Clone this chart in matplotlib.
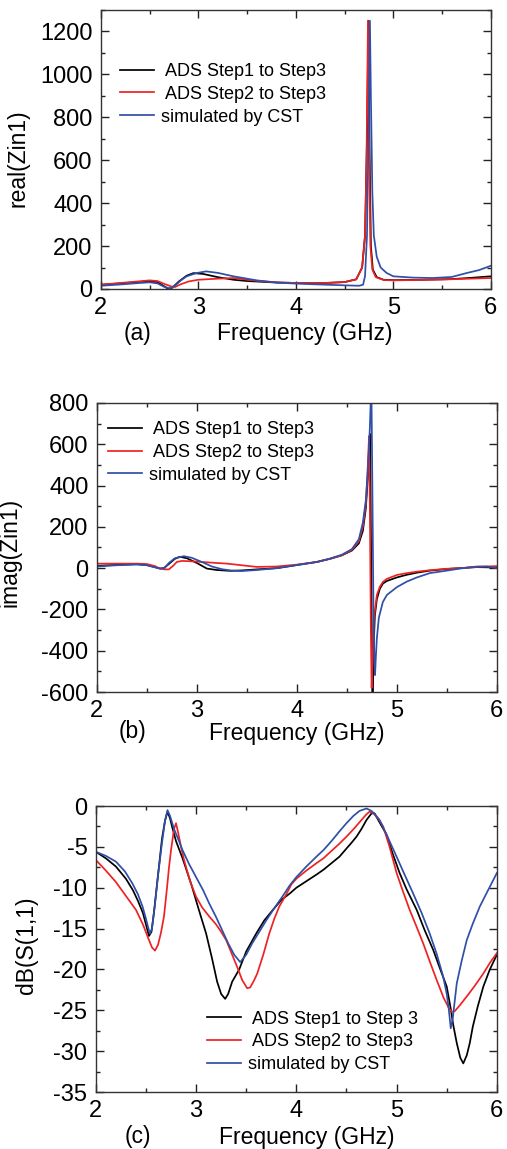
import matplotlib
matplotlib.use('Agg')
import matplotlib.pyplot as plt
from matplotlib.ticker import MultipleLocator

plt.rcParams['font.family'] = ['Liberation Sans', 'DejaVu Sans']
plt.rcParams['axes.unicode_minus'] = False

RED = '#ee2222'
BLUE = '#2f4fa8'

labels_ab = [' ADS Step1 to Step3', ' ADS Step2 to Step3', 'simulated by CST']
labels_c = [' ADS Step1 to Step 3', ' ADS Step2 to Step3', 'simulated by CST']

# (a) real(Zin1)
fa_black = [2.0, 2.2, 2.4, 2.5, 2.58, 2.64, 2.69, 2.73, 2.8, 2.88, 2.95, 3.05, 3.2, 3.36, 3.5, 3.8, 4.0, 4.3,
            4.5, 4.62, 4.68, 4.71, 4.73, 4.745, 4.755, 4.77, 4.79, 4.83, 4.9, 5.0, 5.3, 5.6, 5.8, 6.0]
ra_black = [20, 26, 33, 36, 32, 15, 1, 5, 35, 62, 74, 70, 55, 43, 37, 30, 28, 28,
            32, 45, 100, 250, 700, 1250, 700, 200, 90, 55, 43, 41, 43, 46, 52, 59]
fa_red = [2.0, 2.2, 2.4, 2.5, 2.58, 2.66, 2.72, 2.76, 2.82, 2.9, 3.0, 3.2, 3.36, 3.6, 3.8, 4.0, 4.3, 4.5,
          4.62, 4.68, 4.71, 4.725, 4.74, 4.75, 4.765, 4.785, 4.82, 4.9, 5.0, 5.5, 6.0]
ra_red = [20, 28, 36, 40, 37, 22, 12, 9, 22, 35, 43, 48, 51, 38, 31, 28, 28, 32,
          45, 100, 250, 600, 1250, 700, 200, 90, 55, 42, 40, 44, 51]
fa_blue = [2.0, 2.2, 2.4, 2.5, 2.58, 2.65, 2.71, 2.76, 2.82, 2.88, 2.98, 3.08, 3.2, 3.36, 3.6, 3.8, 4.0, 4.3,
           4.5, 4.65, 4.69, 4.71, 4.73, 4.745, 4.76, 4.77, 4.785, 4.8, 4.83, 4.87, 4.93, 5.0, 5.2, 5.4,
           5.6, 5.75, 5.88, 6.0]
ra_blue = [15, 21, 28, 31, 26, 10, 2, 15, 40, 59, 74, 82, 75, 59, 40, 30, 25, 20,
           17, 15, 20, 60, 250, 700, 1250, 900, 450, 250, 150, 100, 75, 59, 53, 51,
           56, 74, 88, 108]

# (b) imag(Zin1)
fb_black = [2.0, 2.2, 2.4, 2.5, 2.58, 2.63, 2.67, 2.72, 2.78, 2.83, 2.9, 3.0, 3.1, 3.2, 3.33, 3.45,
            3.6, 3.8, 4.0, 4.2, 4.33, 4.45, 4.55, 4.62, 4.66, 4.69, 4.71, 4.725, 4.732, 4.74, 4.75,
            4.757, 4.765, 4.78, 4.8, 4.83, 4.86, 4.9, 5.0, 5.1, 5.2, 5.33, 5.5, 5.63, 5.8, 6.0]
ib_black = [11, 16, 19, 15, 5, -2, 0, 20, 45, 55, 48, 25, -2, -9, -13, -11,
            -6, 0, 15, 30, 45, 62, 85, 120, 180, 290, 440, 600, 650, 200, -350,
            -600, -420, -230, -150, -100, -75, -62, -45, -32, -22, -12, -4, 0, 5, 3]
fb_red = [2.0, 2.2, 2.4, 2.5, 2.58, 2.63, 2.68, 2.72, 2.76, 2.8, 2.85, 2.95, 3.05, 3.2, 3.3, 3.45,
          3.6, 3.8, 4.0, 4.2, 4.33, 4.45, 4.55, 4.62, 4.66, 4.69, 4.705, 4.715, 4.722, 4.73, 4.74,
          4.748, 4.755, 4.77, 4.8, 4.83, 4.86, 4.9, 5.0, 5.1, 5.2, 5.33, 5.5, 5.63, 5.8, 6.0]
ib_red = [22, 22, 22, 20, 10, -2, -6, -6, 10, 30, 35, 33, 30, 25, 22, 14,
          6, 8, 17, 30, 45, 62, 88, 130, 200, 310, 450, 560, 640, 300, -300,
          -580, -480, -250, -130, -90, -67, -52, -33, -24, -17, -10, -3, 0, 6, 10]
fb_blue = [2.0, 2.2, 2.4, 2.5, 2.58, 2.64, 2.68, 2.72, 2.78, 2.87, 2.95, 3.05, 3.15, 3.25, 3.35, 3.45,
           3.6, 3.8, 4.0, 4.2, 4.33, 4.45, 4.55, 4.62, 4.66, 4.69, 4.71, 4.73, 4.745, 4.755, 4.765,
           4.775, 4.782, 4.79, 4.8, 4.82, 4.86, 4.9, 5.0, 5.1, 5.2, 5.33, 5.5, 5.63, 5.8, 5.9, 6.0]
ib_blue = [8, 14, 18, 14, 4, -2, 2, 25, 48, 58, 50, 30, 8, -5, -12, -14,
           -9, 0, 15, 30, 46, 65, 92, 140, 220, 330, 470, 680, 900, 400, -150,
           -450, -518, -430, -340, -240, -164, -130, -92, -65, -45, -24, -12, -2, 8, 8, 0]

# (c) dB(S(1,1))
fc_black = [2.0, 2.1, 2.2, 2.3, 2.37, 2.42, 2.47, 2.5, 2.53, 2.555, 2.58, 2.62, 2.66, 2.69, 2.715,
            2.74, 2.76, 2.8, 2.865, 2.95, 3.03, 3.1, 3.16, 3.21, 3.25, 3.29, 3.32, 3.36, 3.43, 3.5,
            3.6, 3.68, 3.76, 3.85, 3.935, 4.0, 4.1, 4.2, 4.27, 4.35, 4.43, 4.5, 4.55, 4.6, 4.65,
            4.7, 4.75, 4.78, 4.83, 4.9, 4.96, 5.03, 5.1, 5.2, 5.28, 5.365, 5.43, 5.5, 5.54, 5.565,
            5.6, 5.635, 5.665, 5.7, 5.73, 5.76, 5.81, 5.865, 5.93, 6.0]
sc_black = [-5.6, -6.4, -7.4, -8.9, -10.3, -11.6, -13.1, -14.5, -15.9, -15.4, -13, -8.5, -4, -1.8, -0.7,
            -1.5, -2.5, -4.3, -6.4, -9.5, -12.8, -15.6, -18.7, -21.5, -23.0, -23.6, -23.0, -21.5, -20.0, -17.8,
            -15.6, -14.0, -12.8, -11.5, -10.7, -10.0, -9.2, -8.4, -7.8, -7.0, -6.2, -5.2, -4.5, -3.75, -2.8,
            -1.7, -0.9, -0.9, -2.0, -3.5, -5.8, -8.2, -10.2, -12.7, -15.2, -17.6, -19.8, -22.1, -24.8, -26.8,
            -29.0, -30.8, -31.5, -30.5, -29.0, -27.0, -24.5, -22.1, -20.0, -18.2]
fc_red = [2.0, 2.1, 2.2, 2.3, 2.4, 2.47, 2.53, 2.56, 2.59, 2.62, 2.65, 2.68, 2.71, 2.73, 2.75,
          2.78, 2.8, 2.82, 2.85, 2.88, 2.94, 3.0, 3.06, 3.13, 3.2, 3.25, 3.3, 3.36, 3.41, 3.46,
          3.51, 3.54, 3.58, 3.61, 3.67, 3.73, 3.78, 3.83, 3.9, 3.95, 4.0, 4.1, 4.2, 4.27, 4.35,
          4.43, 4.5, 4.58, 4.65, 4.7, 4.73, 4.77, 4.82, 4.866, 4.93, 5.0, 5.065, 5.13, 5.2, 5.265,
          5.33, 5.4, 5.47, 5.52, 5.55, 5.58, 5.63, 5.7, 5.78, 5.865, 5.93, 6.0]
sc_red = [-6.6, -7.9, -9.3, -11.0, -12.7, -14.5, -16.4, -17.3, -17.7, -17.0, -15.5, -13.5, -10.0, -7.5, -5.4,
          -2.8, -2.1, -3.2, -5.0, -6.6, -9.2, -11.1, -12.4, -13.5, -14.5, -15.4, -16.4, -18.2, -19.7, -21.3,
          -22.3, -22.2, -21.3, -20.5, -18.2, -15.6, -13.8, -12.3, -10.8, -9.6, -8.9, -7.9, -7.0, -6.4, -5.5,
          -4.6, -3.75, -2.7, -1.7, -1.0, -0.7, -0.9, -1.6, -2.5, -5.0, -8.2, -10.5, -12.7, -14.8, -16.8,
          -19.0, -21.3, -23.5, -24.7, -25.2, -25.1, -24.4, -23.3, -22.0, -20.5, -19.2, -18.0]
fc_blue = [2.0, 2.1, 2.2, 2.29, 2.366, 2.42, 2.466, 2.5, 2.525, 2.54, 2.56, 2.59, 2.62, 2.66, 2.69,
           2.715, 2.74, 2.78, 2.82, 2.865, 2.93, 3.0, 3.07, 3.13, 3.2, 3.26, 3.32, 3.38, 3.44, 3.5,
           3.56, 3.63, 3.7, 3.78, 3.86, 3.935, 4.0, 4.1, 4.2, 4.27, 4.35, 4.43, 4.5, 4.57, 4.63,
           4.7, 4.75, 4.79, 4.83, 4.9, 5.0, 5.08, 5.165, 5.25, 5.33, 5.4, 5.465, 5.5, 5.52, 5.54,
           5.56, 5.6, 5.65, 5.7, 5.76, 5.83, 5.9, 6.0]
sc_blue = [-5.6, -6.1, -6.8, -8.0, -9.5, -10.8, -12.3, -13.8, -15.0, -15.6, -15.0, -12.0, -8.5, -4.5, -1.8,
           -0.5, -1.2, -2.8, -4.0, -5.4, -7.1, -8.7, -10.3, -11.9, -13.6, -15.2, -16.8, -18.2, -19.1, -18.2,
           -16.8, -15.4, -14.0, -12.5, -11.1, -9.7, -8.7, -7.4, -6.2, -5.4, -4.3, -3.1, -2.1, -1.2, -0.6,
           -0.3, -0.6, -1.1, -1.7, -3.5, -6.2, -8.4, -10.7, -13.1, -15.6, -18.1, -20.9, -23.0, -24.8, -27.2,
           -26.0, -21.7, -18.9, -16.4, -14.4, -12.3, -10.6, -8.2]


def style_axes(ax, ymajor, yminor):
    ax.set_xlim(2, 6)
    ax.xaxis.set_major_locator(MultipleLocator(1))
    ax.xaxis.set_minor_locator(MultipleLocator(0.5))
    ax.yaxis.set_major_locator(MultipleLocator(ymajor))
    ax.yaxis.set_minor_locator(MultipleLocator(yminor))
    ax.tick_params(which='both', direction='in', top=True, right=True, color='#222222')
    ax.tick_params(which='major', length=6, width=1)
    ax.tick_params(which='minor', length=3, width=1)
    ax.tick_params(axis='y', labelsize=17, pad=6)
    ax.tick_params(axis='x', labelsize=17, pad=6)
    for s in ax.spines.values():
        s.set_color('#333333')
        s.set_linewidth(1.0)


def draw(ax, data, labels, ylabel, tag, ylab_xy, tag_xy, xlab_xy, leg_xy):
    for (x, y), c, lab in zip(data, ['black', RED, BLUE], labels):
        ax.plot(x, y, color=c, lw=1.25, label=lab)
    ax.set_ylabel(ylabel, fontsize=16.5)
    ax.yaxis.set_label_coords(*ylab_xy)
    ax.set_xlabel('Frequency (GHz)', fontsize=16.5, va='center')
    ax.xaxis.set_label_coords(*xlab_xy)
    ax.text(tag_xy[0], tag_xy[1], tag, transform=ax.transAxes, fontsize=16.5,
            ha='center', va='center')
    ax.legend(frameon=False, loc='upper left', bbox_to_anchor=leg_xy, fontsize=13,
              handlelength=1.9, handletextpad=0.35, labelspacing=0.32,
              borderpad=0, borderaxespad=0)


fig = plt.figure(figsize=(5.07, 11.49), dpi=100)

ax1 = fig.add_axes([0.199, 0.7485, 0.769, 0.2428])
style_axes(ax1, 200, 100)
ax1.set_ylim(0, 1300)
draw(ax1, [(fa_black, ra_black), (fa_red, ra_red), (fa_blue, ra_blue)], labels_ab,
     'real(Zin1)', '(a)', (-0.182, 0.47), (0.095, -0.158), (0.523, -0.158), (0.049, 0.81))

ax2 = fig.add_axes([0.191, 0.3977, 0.789, 0.2516])
style_axes(ax2, 200, 100)
ax2.set_ylim(-600, 800)
draw(ax2, [(fb_black, ib_black), (fb_red, ib_red), (fb_blue, ib_blue)], labels_ab,
     'imag(Zin1)', '(b)', (-0.188, 0.484), (0.09, -0.138), (0.50, -0.145), (0.028, 0.937))

ax3 = fig.add_axes([0.189, 0.0496, 0.791, 0.2489])
style_axes(ax3, 5, 2.5)
ax3.set_ylim(-35, 0)
draw(ax3, [(fc_black, sc_black), (fc_red, sc_red), (fc_blue, sc_blue)], labels_c,
     'dB(S(1,1)', '(c)', (-0.145, 0.514), (0.105, -0.154), (0.526, -0.158), (0.277, 0.285))

fig.savefig('out.png', dpi=100)
